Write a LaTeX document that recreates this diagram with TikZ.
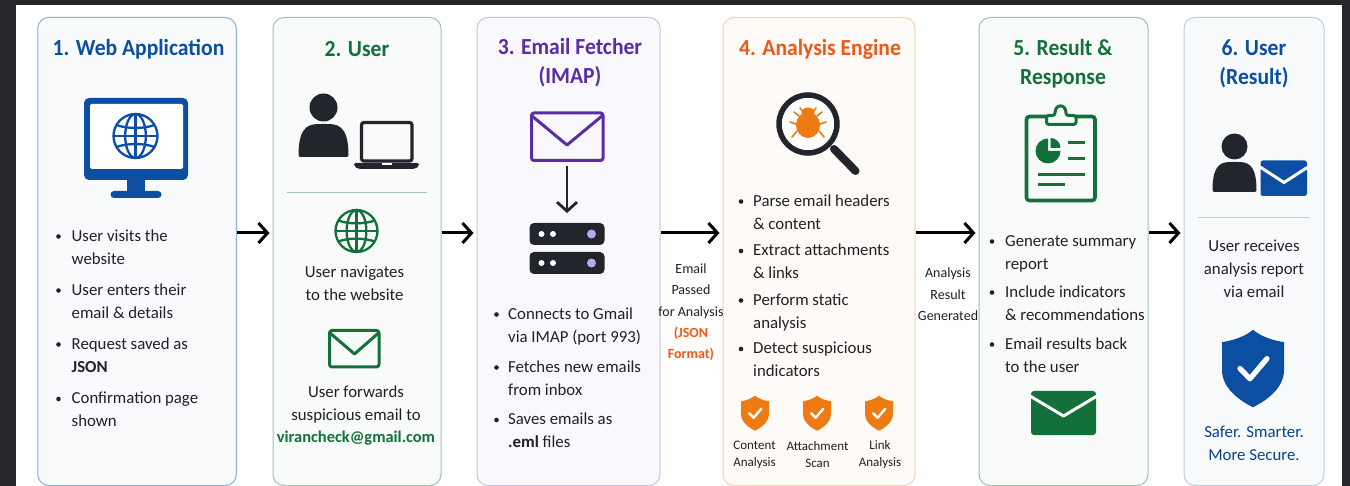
\documentclass[tikz,border=0pt]{standalone}
\usepackage{fontspec}
\setmainfont{Carlito}
\newfontfamily\titlefont[FakeStretch=0.94]{Carlito}
\usetikzlibrary{arrows.meta}
\definecolor{bgdark}{HTML}{27272B}
\definecolor{ink}{HTML}{23252C}
\definecolor{txt}{HTML}{1F2126}
\definecolor{cblue}{HTML}{0B4EA2}
\definecolor{cgreen}{HTML}{13703A}
\definecolor{cpurple}{HTML}{5A2CA8}
\definecolor{corange}{HTML}{EE7A14}
\definecolor{cred}{HTML}{EE5A16}
\definecolor{lav}{HTML}{BBA6EE}
\tikzset{
  panel/.style={draw=#1, line width=1pt, rounded corners=11pt, inner sep=0pt, minimum height=468pt, anchor=north},
  ttl/.style={font=\fontsize{23}{29}\titlefont\bfseries, text=#1, align=center, inner sep=0pt, yshift=-1.5pt},
  body/.style={font=\fontsize{16.8}{23}\selectfont, text=txt, inner sep=0pt, yshift=-1.5pt},
  item/.style={body, anchor=west, align=left},
  ctr/.style={body, align=center},
  lab/.style={font=\fontsize{14}{21.5}\selectfont, text=txt, align=center, inner sep=0pt},
  smalllab/.style={font=\fontsize{13}{17}\selectfont, text=txt, align=center, inner sep=0pt, yshift=-1pt},
  dotb/.style={circle, fill=txt, inner sep=0pt, minimum size=4.6pt, yshift=-1.5pt},
  flow/.style={-{Straight Barb[length=9pt,width=20pt,line width=3pt]}, line width=3pt, black, shorten >=3pt},
  divline/.style={line width=1pt}
}
\newcommand{\bitem}[5]{% name, xbullet, xtext, ymid, text
  \node[item] (#1) at (#3,#4) {\strut #5\strut};
  \node[dotb] (#1b) at (#2,#4-11.5) {};
}
\newcommand{\icglobe}[4]{% x y r colour
  \begin{scope}[shift={(#1,#2)},x=#3pt,y=-#3pt,draw=#4,line width=2.3pt]
    \draw (0,0) circle[radius=1];
    \draw (0,0) ellipse[x radius=.47,y radius=1];
    \draw (0,-1) -- (0,1) (-1,0) -- (1,0);
    \draw (-.86,-.5) .. controls (-.4,-.32) and (.4,-.32) .. (.86,-.5);
    \draw (-.86,.5) .. controls (-.4,.32) and (.4,.32) .. (.86,.5);
  \end{scope}
}
\newcommand{\icshield}[4]{% x y r colour
  \begin{scope}[shift={(#1,#2)},x=#3pt,y=-#3pt]
    \fill[#4] (0,-1.2) .. controls (-.3,-.95) and (-.7,-.85) .. (-1,-.8) -- (-1,.1)
      .. controls (-1,.7) and (-.4,1.1) .. (0,1.3)
      .. controls (.4,1.1) and (1,.7) .. (1,.1) -- (1,-.8)
      .. controls (.7,-.85) and (.3,-.95) .. (0,-1.2) -- cycle;
    \draw[white,line width=.17*#3pt,line cap=round,line join=round] (-.42,.05) -- (-.1,.38) -- (.45,-.27);
  \end{scope}
}
\newcommand{\icperson}[6]{% xc ytop-head-centre r bodyhalfwidth bodybottom colour
  \fill[#6] (#1,#2) circle[radius=#3];
  \fill[#6,rounded corners=2pt] (#1-#4,#5) .. controls (#1-#4,#2+#3+2) and (#1-#4*.5,#2+#3+2.5) .. (#1,#2+#3+2.5)
     .. controls (#1+#4*.5,#2+#3+2.5) and (#1+#4,#2+#3+2) .. (#1+#4,#5) -- cycle;
}
\begin{document}
\begin{tikzpicture}[x=1pt,y=-1pt]
\useasboundingbox (0,0) rectangle (1350,486);
\fill[bgdark] (0,0) rectangle (1350,486);
\fill[white] (16,5) rectangle (1342,486);

% panels
\node[panel=cblue!45!white, fill=cblue!3!white, minimum width=198.5pt] (p1) at (137,17) {};
\node[panel=cgreen!40!white, fill=cgreen!3!white, minimum width=168pt] (p2) at (357,17) {};
\node[panel=cpurple!30!white, fill=cpurple!3.5!white, minimum width=183pt] (p3) at (568.5,17) {};
\node[panel=corange!35!white, fill=corange!3.5!white, minimum width=192pt] (p4) at (819,17) {};
\node[panel=cgreen!42!white, fill=cgreen!3!white, minimum width=169pt] (p5) at (1063.5,17) {};
\node[panel=cblue!28!white, fill=cblue!3!white, minimum width=140pt] (p6) at (1254,17) {};

% connectors
\coordinate (fl) at (0,233);
\draw[flow] (p1.east |- fl) -- (p2.west |- fl);
\draw[flow] (p2.east |- fl) -- (p3.west |- fl);
\draw[flow] (p3.east |- fl) -- (p4.west |- fl);
\draw[flow] (p4.east |- fl) -- (p5.west |- fl);
\draw[flow] (p5.east |- fl) -- (p6.west |- fl);

% --- panel 1
\node[ttl=cblue] (t1) at (138.5,47.5) {1. Web Application};
\fill[cblue,rounded corners=5pt] (84,98) rectangle (188,180);
\fill[white,rounded corners=1.5pt] (90,104) rectangle (183,169);
\fill[cblue] (127,178) rectangle (145,193);
\fill[cblue,rounded corners=3.5pt] (110.5,191) rectangle (161.5,198);
\icglobe{135.5}{136}{22}{cblue}
\bitem{a1}{58.5}{71.5}{246.5}{User visits the\\website}
\bitem{a2}{58.5}{71.5}{300.5}{User enters their\\email \& details}
\bitem{a3}{58.5}{71.5}{354.5}{Request saved as\\\textbf{JSON}}
\bitem{a4}{58.5}{71.5}{409}{Confirmation page\\shown}

% --- panel 2
\node[ttl=cgreen] (t2) at (357,47.5) {2. User};
\icperson{323.5}{107.5}{14}{25}{157}{ink}
\draw[ink,line width=3.2pt,rounded corners=2.5pt] (361.5,122.5) rectangle (412,161);
\fill[ink,rounded corners=2pt] (354,163) -- (419,163) -- (419,166) -- (415,169) -- (358,169) -- (354,166) -- cycle;
\fill[white] (382,163.5) rectangle (392,165);
\draw[cgreen!40!white,divline] (286.5,192.5) -- (427,192.5);
\icglobe{356.5}{231}{21}{cgreen}
\node[ctr] (b1) at (354.5,282.5) {\strut User navigates\\to the website\strut};
\draw[cgreen,line width=3pt,rounded corners=2.5pt,line join=round] (329.5,330.5) rectangle (379,367);
\draw[cgreen,line width=3pt,line join=round] (330,333) -- (354.5,354) -- (378.5,333);
\node[ctr] (b2) at (356,402.5) {\strut User forwards\\suspicious email to\strut};
\node[body,text=cgreen,font=\fontsize{16.4}{23}\selectfont\bfseries] (b3) at (356,437) {virancheck@gmail.com};

% --- panel 3
\node[ttl=cpurple,align=center] (t3) at (570,61.5) {3. Email Fetcher\\(IMAP)};
\draw[cpurple,line width=3pt,rounded corners=2.5pt] (531.5,113) rectangle (603,160.5);
\draw[cpurple,line width=3pt,line join=round] (532,116) -- (567,145) -- (602,116);
\coordinate (ma) at (567,166.5);
\coordinate (mb) at (567,213);
\draw[ink,line width=2.8pt,-{Straight Barb[length=9pt,width=20pt,line width=2.8pt]}] (ma) -- (mb);
\foreach \yy in {223,252} {
  \fill[ink,rounded corners=4.5pt] (529.5,\yy) rectangle (604.5,\yy+22);
  \fill[white] (541.5,\yy+11) circle[radius=3] (553,\yy+11) circle[radius=3];
  \fill[lav] (591.5,\yy+11) circle[radius=4.5];
}
\bitem{c1}{496.5}{508}{324.5}{Connects to Gmail\\via IMAP (port 993)}
\bitem{c2}{496.5}{508}{377.5}{Fetches new emails\\from inbox}
\bitem{c3}{496.5}{508}{430}{Saves emails as\\\textbf{.eml} files}

% label 3-4
\node[lab] (l1) at (691,291) {Email\\Passed\\for Analysis};
\node[lab,text=cred,font=\fontsize{14}{21.5}\selectfont\bfseries] (l2) at (691,344) {(JSON\\Format)};

% --- panel 4
\node[ttl=cred] (t4) at (820,47.5) {4. Analysis Engine};
\draw[ink,line width=8pt,line cap=round] (834,149) -- (855.5,171);
\draw[ink,line width=5.5pt,fill=white] (808,124) circle[radius=29];
% bug
\begin{scope}[corange,line width=1.6pt,line cap=round]
  \draw (799,116) -- (794,112) (817,116) -- (822,112);
  \draw (796,124) -- (790,122) (820,124) -- (826,122);
  \draw (797,131) -- (792,137) (819,131) -- (824,137);
  \draw (803,112) -- (800,108) (813,112) -- (816,108);
  \fill (808,125) ellipse[x radius=12,y radius=13];
  \fill (808,112.5) ellipse[x radius=6.5,y radius=5];
\end{scope}
\bitem{d1}{741}{753}{211.5}{Parse email headers\\\& content}
\bitem{d2}{741}{753}{261}{Extract attachments\\\& links}
\bitem{d3}{741}{753}{310.5}{Perform static\\analysis}
\bitem{d4}{741}{753}{359}{Detect suspicious\\indicators}
\icshield{755}{412.5}{14}{corange}
\icshield{817}{412.5}{14}{corange}
\icshield{879}{412.5}{14}{corange}
\node[smalllab] (s1) at (754.5,453.5) {Content\\Analysis};
\node[smalllab] (s2) at (817.5,453.5) {Attachment\\Scan};
\node[smalllab] (s3) at (880,453.5) {Link\\Analysis};

% label 4-5
\node[lab] (l3) at (948,294.5) {Analysis\\Result\\Generated};

% --- panel 5
\node[ttl=cgreen] (t5) at (1063,62) {5. Result \&\\Response};
\draw[cgreen,line width=3.6pt,rounded corners=3pt] (1026.5,116.5) rectangle (1095,200.5);
\draw[cgreen,line width=3pt,fill=cgreen!3!white,rounded corners=2.5pt] (1046.5,124.5) -- (1046.5,115.5) -- (1055,115.5)
   .. controls (1055,103.5) and (1066,103.5) .. (1066,115.5) -- (1076,115.5) -- (1076,124.5) -- cycle;
\fill[cgreen] (1048,151) -- (1048,138.5) arc[start angle=-90,end angle=-360,radius=12.5] -- cycle;
\fill[cgreen] (1050.5,148) -- (1050.5,138) arc[start angle=-90,end angle=0,radius=10] -- cycle;
\draw[cgreen,line width=3pt] (1068,143) -- (1084.5,143) (1068,158.5) -- (1084.5,158.5) (1038,175) -- (1084.5,175) (1038,185) -- (1064.5,185);
\bitem{e1}{992}{1005}{251.5}{Generate summary\\report}
\bitem{e2}{992}{1005}{302.5}{Include indicators\\\& recommendations}
\bitem{e3}{992}{1005}{354.5}{Email results back\\to the user}
\fill[cgreen,rounded corners=3pt] (1031,391) rectangle (1096,435);
\draw[white,line width=3pt,line join=round] (1030,396) -- (1063.5,416) -- (1097,396);

% --- panel 6
\node[ttl=cblue] (t6) at (1254,62) {6. User\\(Result)};
\icperson{1234.5}{146.5}{13}{22}{192}{ink}
\fill[cblue,rounded corners=2.5pt] (1260.5,160.5) rectangle (1307,196);
\draw[white,line width=3pt,line join=round] (1260,167) -- (1284,182.5) -- (1308,167);
\draw[cblue!28!white,divline] (1198,217.5) -- (1310,217.5);
\node[ctr] (f1) at (1254,268) {\strut User receives\\analysis report\\via email\strut};
\icshield{1253}{367}{31}{cblue}
\node[ctr,text=cblue!85!black] (f2) at (1254,443) {\strut Safer. Smarter.\\More Secure.\strut};
\end{tikzpicture}
\end{document}
